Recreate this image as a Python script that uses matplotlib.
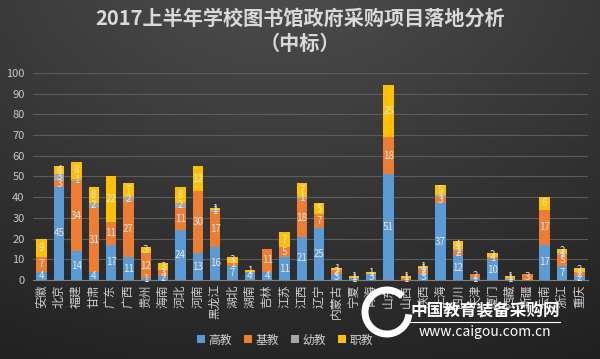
import numpy as np
import matplotlib.pyplot as plt
from matplotlib.patches import Arc

plt.rcParams["font.family"] = ["Noto Sans CJK SC", "DejaVu Sans"]

# data
provinces = ["安徽", "北京", "福建", "甘肃", "广东", "广西", "贵州", "海南", "河北", "河南",
             "黑龙江", "湖北", "湖南", "吉林", "江苏", "江西", "辽宁", "内蒙古", "宁夏", "青海",
             "山东", "山西", "陕西", "上海", "四川", "天津", "厦门", "西藏", "新疆", "云南",
             "浙江", "重庆"]
gaojiao = [4, 45, 14, 4, 17, 11, 1, 2, 24, 13, 16, 7, 4, 4, 11, 21, 25, 3, 1, 3,
           51, 0, 3, 37, 12, 1, 10, 0, 0, 17, 7, 2]
jijiao = [7, 3, 34, 31, 11, 27, 12, 3, 11, 30, 17, 1, 0, 11, 5, 18, 7, 2, 0, 0,
          18, 1, 2, 3, 2, 2, 1, 0, 3, 17, 5, 2]
youjiao = [0, 3, 1, 2, 0, 2, 0, 0, 2, 0, 1, 0, 0, 0, 0, 1, 0, 0, 0, 0,
           0, 0, 1, 1, 1, 0, 0, 1, 0, 0, 1, 0]
zhijiao = [9, 4, 8, 8, 22, 7, 3, 3, 8, 12, 1, 3, 1, 0, 7, 7, 5, 1, 1, 1,
           25, 1, 1, 5, 4, 0, 2, 1, 0, 6, 2, 2]

series = [("高教", gaojiao, "#5b9bd5"),
          ("基教", jijiao, "#ed7d31"),
          ("幼教", youjiao, "#a5a5a5"),
          ("职教", zhijiao, "#ffc000")]

fig = plt.figure(figsize=(6, 3.59), dpi=100)

# dark radial background
bg = fig.add_axes([0, 0, 1, 1], zorder=-10)
yy, xx = np.mgrid[0:359, 0:600]
r = np.sqrt(((xx - 280) / 600.0) ** 2 + ((yy + 40) / 420.0) ** 2)
shade = np.clip(0.31 - 0.17 * r, 0.11, 0.31)
bg.imshow(np.dstack([shade] * 3), aspect="auto", extent=[0, 1, 0, 1])
bg.axis("off")

ax = fig.add_axes([0.055, 0.22, 0.925, 0.577])
ax.set_facecolor("none")

x = np.arange(len(provinces))
bottom = np.zeros(len(provinces))
for name, vals, color in series:
    vals = np.array(vals)
    ax.bar(x, vals, 0.6, bottom=bottom, color=color, label=name, zorder=3)
    for xi, b, v in zip(x, bottom, vals):
        if v > 0:
            ax.text(xi, b + v / 2, str(v), ha="center", va="center",
                    fontsize=7, color="#e6e6e6", zorder=4)
    bottom += vals

ax.set_xlim(-0.5, len(provinces) - 0.5)
ax.set_ylim(0, 100)
ax.set_yticks(range(0, 101, 10))
ax.yaxis.grid(True, color="#5c5c5c", lw=0.8, zorder=0)
ax.tick_params(axis="y", length=0, labelsize=8, colors="#c8c8c8", pad=6)
ax.set_xticks(x)
ax.set_xticklabels(provinces, rotation=90, fontsize=8.5, color="#d0d0d0")
ax.tick_params(axis="x", length=0, pad=3)
for s in ["top", "right", "left"]:
    ax.spines[s].set_visible(False)
ax.spines["bottom"].set_color("#808080")

fig.text(0.5, 0.95, "2017上半年学校图书馆政府采购项目落地分析", ha="center", va="center",
         fontsize=14.5, fontweight="bold", color="#d9d9d9")
fig.text(0.5, 0.88, "（中标）", ha="center", va="center",
         fontsize=14.5, fontweight="bold", color="#d9d9d9")

fig.legend(loc="center", bbox_to_anchor=(0.475, 0.053), ncol=4, frameon=False,
           fontsize=8.5, labelcolor="#d0d0d0", handlelength=0.7, handleheight=0.7,
           columnspacing=1.0, handletextpad=0.3)

# watermark
fig.patches.append(Arc((387 / 600, 1 - 312 / 359), 44 / 600, 44 / 359, theta1=60,
                       theta2=350, lw=5, color="white", transform=fig.transFigure))
fig.text(485 / 600, 1 - 312 / 359, "中国教育装备采购网", ha="center", va="center",
         fontsize=12, fontweight="bold", color="white")
fig.lines.append(plt.Line2D([410 / 600, 560 / 600], [1 - 322 / 359] * 2, lw=0.8,
                            color="white", transform=fig.transFigure))
fig.text(485 / 600, 1 - 332 / 359, "www.caigou.com.cn", ha="center", va="center",
         fontsize=10, style="italic", color="white")

fig.savefig("out.png", dpi=100)
